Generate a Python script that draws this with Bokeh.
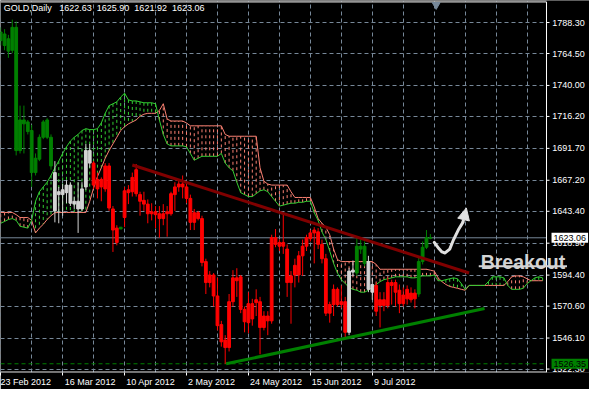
from bokeh.plotting import figure
from bokeh.models import (Range1d, FixedTicker, Label, ColumnDataSource, Arrow, NormalHead)
from bokeh.embed import file_html
from bokeh.resources import INLINE
from bokeh.core.properties import value

# ------------------------------------------------------------------ data
bar_open = [1774.4, 1770.7, 1766.3, 1767.0, 1784.6, 1690.0, 1713.5, 1712.0, 1705.4, 1673.1,
            1683.4, 1700.2, 1713.5, 1700.2, 1673.1, 1656.2, 1659.9, 1657.7, 1663.5, 1651.1,
            1645.2, 1645.2, 1662.1, 1690.0, 1680.4, 1660.6, 1667.9, 1660.6, 1678.2, 1645.2,
            1630.5, 1629.8, 1638.6, 1659.9, 1658.4, 1675.3, 1656.2, 1651.8, 1648.9, 1643.0,
            1643.0, 1641.5, 1637.8, 1643.0, 1641.5, 1656.2, 1662.1, 1664.3, 1662.1, 1653.3,
            1634.9, 1642.3, 1637.8, 1604.8, 1588.7, 1594.5, 1578.4, 1556.4, 1544.6, 1538.8,
            1574.0, 1592.3, 1593.1, 1568.1, 1557.9, 1572.5, 1573.3, 1574.0, 1554.2, 1563.0,
            1559.3, 1623.2, 1619.5, 1616.6, 1614.4, 1588.7, 1594.5, 1594.5, 1609.2, 1616.6,
            1622.4, 1626.8, 1627.6, 1618.0, 1607.0, 1565.2, 1571.8, 1583.5, 1571.8, 1574.0,
            1550.5, 1596.7, 1596.0, 1616.6, 1616.6, 1604.8, 1581.3, 1586.5, 1571.1, 1575.5,
            1571.1, 1588.7, 1588.7, 1582.8, 1572.5, 1576.2, 1580.6, 1576.2, 1579.9, 1604.8,
            1615.8, 1622.63]
bar_high = [1784.6, 1783.2, 1778.8, 1790.5, 1789.1, 1724.5, 1724.5, 1713.5, 1709.8, 1687.8,
            1702.4, 1713.5, 1714.9, 1702.4, 1681.9, 1662.1, 1664.3, 1667.2, 1665.7, 1654.7,
            1665.7, 1665.7, 1695.1, 1695.1, 1681.9, 1673.1, 1669.4, 1680.4, 1680.4, 1647.4,
            1632.7, 1631.2, 1662.1, 1663.5, 1673.1, 1679.7, 1658.4, 1658.4, 1652.5, 1649.6,
            1647.4, 1647.4, 1648.9, 1647.4, 1658.4, 1665.7, 1667.2, 1670.9, 1665.7, 1656.2,
            1645.2, 1643.7, 1640.0, 1607.0, 1597.5, 1596.0, 1592.3, 1559.3, 1548.3, 1579.9,
            1598.2, 1599.7, 1594.5, 1570.3, 1581.3, 1576.2, 1583.5, 1577.7, 1566.7, 1566.7,
            1625.4, 1629.8, 1621.7, 1641.5, 1618.0, 1597.5, 1607.0, 1612.9, 1621.7, 1625.4,
            1629.0, 1631.2, 1630.5, 1621.7, 1610.7, 1574.0, 1587.2, 1585.0, 1586.5, 1577.7,
            1599.7, 1605.6, 1623.2, 1621.7, 1620.2, 1609.2, 1592.3, 1588.7, 1581.3, 1581.3,
            1592.3, 1590.9, 1590.9, 1587.2, 1585.0, 1586.5, 1585.0, 1583.5, 1608.5, 1620.2,
            1629.0, 1625.90]
bar_low = [1770.7, 1767.0, 1761.2, 1764.8, 1686.3, 1687.8, 1687.8, 1702.4, 1662.1, 1670.9,
           1681.9, 1698.8, 1698.8, 1675.3, 1634.9, 1634.2, 1640.0, 1649.6, 1647.4, 1645.2,
           1626.8, 1643.7, 1659.9, 1676.8, 1660.6, 1653.3, 1651.1, 1658.4, 1643.7, 1612.2,
           1617.3, 1629.8, 1631.2, 1648.9, 1654.7, 1654.7, 1640.0, 1643.7, 1634.2, 1636.4,
           1630.5, 1623.2, 1632.7, 1623.9, 1640.0, 1643.7, 1658.4, 1653.3, 1649.6, 1629.0,
           1629.0, 1636.4, 1601.1, 1579.9, 1585.0, 1570.3, 1552.0, 1539.5, 1526.3, 1535.8,
           1570.3, 1577.7, 1565.2, 1550.5, 1549.8, 1555.6, 1563.0, 1533.6, 1552.0, 1548.3,
           1557.1, 1615.8, 1612.9, 1610.7, 1577.7, 1557.1, 1585.0, 1588.7, 1593.8, 1612.9,
           1620.2, 1603.4, 1614.4, 1603.4, 1563.0, 1557.9, 1563.0, 1570.3, 1568.9, 1546.8,
           1548.3, 1593.8, 1593.8, 1610.7, 1601.1, 1581.3, 1575.5, 1563.0, 1554.2, 1566.7,
           1568.9, 1571.8, 1570.3, 1565.2, 1570.3, 1571.8, 1573.3, 1568.9, 1577.7, 1602.6,
           1614.4, 1621.92]
bar_close = [1781.0, 1779.5, 1775.8, 1784.6, 1690.0, 1713.5, 1710.5, 1704.6, 1673.1, 1684.1,
             1700.2, 1712.0, 1700.2, 1678.2, 1643.7, 1658.4, 1656.2, 1663.5, 1649.6, 1648.9,
             1651.1, 1660.6, 1690.0, 1680.4, 1663.5, 1667.9, 1662.1, 1678.2, 1645.9, 1629.0,
             1619.5, 1631.2, 1659.1, 1657.7, 1669.4, 1656.9, 1651.1, 1648.9, 1641.5, 1641.5,
             1640.8, 1637.8, 1641.5, 1641.5, 1656.9, 1662.1, 1664.3, 1662.1, 1653.3, 1634.9,
             1642.3, 1637.8, 1604.1, 1588.7, 1594.5, 1578.4, 1555.6, 1543.2, 1538.8, 1574.0,
             1592.3, 1590.1, 1568.1, 1558.6, 1572.5, 1560.8, 1575.5, 1554.2, 1563.0, 1559.3,
             1623.2, 1618.0, 1616.6, 1619.5, 1588.7, 1593.8, 1601.9, 1609.2, 1616.6, 1623.2,
             1626.8, 1629.0, 1618.0, 1607.0, 1565.2, 1571.8, 1583.5, 1571.8, 1574.0, 1550.5,
             1597.5, 1598.2, 1616.6, 1614.4, 1603.4, 1583.5, 1587.2, 1566.7, 1575.5, 1571.1,
             1588.7, 1586.5, 1581.3, 1572.5, 1579.1, 1583.5, 1575.5, 1580.6, 1604.8, 1615.8,
             1623.2, 1623.06]
# position of each bar relative to the cloud: G above, W inside, R below
bar_zone = list("GGGGGGGGGGGGGG" "WWWWWWWWWW" "RRRRRRR" "G"
                "RRRRRRRRRR" "RRRRRRRRRR" "RRRRRRRRRR" "RRRRRRRRRR" "RRRRRRRRRR" "RRRRRRRR"
                "WW" "GGG" "WW" "RRRRRRRRRRR" "GGGG")

# Ichimoku cloud (already shifted forward), one value per bar
senkou_a = [1634.2, 1635.6, 1637.1, 1637.8, 1636.4, 1631.9, 1631.2, 1630.5, 1636.4, 1651.1,
            1658.4, 1662.1, 1665.7, 1670.9, 1676.8, 1681.9, 1687.8, 1692.9, 1697.3, 1700.2,
            1702.4, 1705.4, 1706.8, 1706.1, 1706.1, 1706.8, 1711.2, 1718.6, 1724.5, 1725.9,
            1727.4, 1731.1, 1734.0, 1728.9, 1728.1, 1728.1, 1727.4, 1726.7, 1726.7, 1726.7,
            1725.9, 1713.5, 1702.4, 1695.1, 1693.6, 1693.6, 1693.6, 1693.6, 1692.9, 1687.8,
            1682.6, 1684.1, 1685.6, 1685.6, 1685.6, 1685.6, 1685.6, 1687.8, 1680.4, 1676.8,
            1674.5, 1665.7, 1657.7, 1656.2, 1654.7, 1654.7, 1656.9, 1659.1, 1659.9, 1658.4,
            1654.7, 1651.1, 1647.4, 1648.1, 1648.9, 1649.6, 1649.6, 1650.3, 1650.3, 1651.1,
            1651.1, 1642.3, 1636.4, 1627.6, 1621.7, 1612.9, 1603.4, 1596.0, 1590.9, 1587.9,
            1585.0, 1583.5, 1582.8, 1581.3, 1581.3, 1582.8, 1585.0, 1587.2, 1589.4, 1590.9,
            1591.6, 1592.3, 1593.1, 1593.1, 1593.1, 1593.1, 1592.3, 1592.3, 1593.1, 1593.8,
            1593.8, 1593.8, 1594.5, 1590.1, 1590.1, 1590.9, 1591.6, 1592.3, 1591.6, 1587.9,
            1583.5, 1586.5, 1586.5, 1586.5, 1586.5, 1586.5, 1589.4, 1593.1, 1593.1, 1593.1,
            1592.3, 1586.5, 1583.5, 1583.5, 1583.5, 1584.3, 1587.9, 1590.1, 1592.3, 1593.1,
            1592.3]
senkou_b = [1642.5, 1642.5, 1642.5, 1642.5, 1640.8, 1638.6, 1638.6, 1638.6, 1636.4, 1626.8,
            1630.5, 1633.4, 1637.1, 1640.0, 1642.3, 1642.5, 1642.5, 1642.5, 1642.5, 1642.5,
            1642.5, 1642.5, 1642.5, 1651.1, 1661.3, 1670.1, 1676.8, 1684.1, 1690.0, 1695.1,
            1700.2, 1705.4, 1708.3, 1710.5, 1712.0, 1713.5, 1716.4, 1717.9, 1718.6, 1718.6,
            1718.6, 1720.8, 1725.9, 1714.2, 1712.7, 1712.7, 1712.7, 1712.7, 1711.2, 1709.0,
            1709.0, 1709.0, 1709.0, 1709.0, 1709.0, 1709.0, 1709.0, 1709.0, 1702.4, 1701.0,
            1701.0, 1701.0, 1701.0, 1701.0, 1701.0, 1701.0, 1701.0, 1676.8, 1666.5, 1664.3,
            1663.5, 1663.5, 1663.5, 1663.5, 1663.5, 1658.4, 1654.0, 1654.0, 1654.0, 1654.0,
            1654.0, 1646.7, 1637.8, 1634.2, 1631.2, 1625.4, 1614.4, 1606.3, 1604.8, 1604.8,
            1604.8, 1604.8, 1604.8, 1604.8, 1604.8, 1604.8, 1604.8, 1602.6, 1598.9, 1598.9,
            1598.9, 1598.9, 1598.9, 1598.9, 1598.9, 1598.9, 1598.9, 1598.9, 1598.9, 1598.9,
            1598.9, 1598.2, 1597.5, 1592.3, 1589.4, 1587.2, 1585.7, 1585.0, 1584.3, 1583.5,
            1582.8, 1586.5, 1586.5, 1586.5, 1586.5, 1586.5, 1586.5, 1586.5, 1586.5, 1586.5,
            1586.5, 1589.4, 1593.1, 1593.8, 1593.8, 1593.1, 1591.6, 1590.1, 1590.1, 1590.1,
            1590.1]

price_ticks = [1788.30, 1764.50, 1740.00, 1716.20, 1691.70, 1667.20, 1643.40,
               1618.90, 1594.40, 1570.60, 1546.10, 1522.30]
date_ticks = [0, 16, 32, 48, 64, 80, 96]
date_labels = ["23 Feb 2012", "16 Mar 2012", "10 Apr 2012", "2 May 2012",
               "24 May 2012", "15 Jun 2012", "9 Jul 2012"]

resistance_bar = [34, 121]
resistance_price = [1678.9, 1596.0]
support_bar = [58.25, 125]
support_price = [1526.3, 1568.8]

last_ohlc = [1622.63, 1625.90, 1621.92, 1623.06]
level_price = 1526.35

# hand-drawn arrow (bar, price)
arrow_bar = [112.0, 113.2, 114.0, 114.8, 116.0, 117.0, 118.2, 119.4]
arrow_price = [1619.5, 1614.8, 1612.2, 1611.4, 1614.4, 1621.7, 1629.0, 1634.9]
arrow_tip = (120.3, 1646.0)

# ------------------------------------------------------------------ layout / styles
C_UP, C_IN, C_DN = "#008000", "#d3d3d3", "#ff0000"
C_A, C_B = "#32cd32", "#fa8072"
GRID = "#778899"
FONT = "Liberation Sans"

X0, X1 = -0.05, 152.11         # frame spans the whole width (price scale drawn inside)
BORDER = 141.0                 # right edge of the chart area (in bar units)
Y0, Y1 = 1519.65, 1805.2
TOP = Y1 - 1.1

p = figure(width=589, height=389, output_backend="svg", toolbar_location=None,
           x_range=Range1d(X0, X1), y_range=Range1d(Y0, Y1),
           y_axis_location=None,
           background_fill_color="black", border_fill_color="black",
           min_border_left=0, min_border_top=0, min_border_right=0, min_border_bottom=14)
p.outline_line_color = None

# grids
p.xgrid.ticker = FixedTicker(ticks=list(range(0, 141, 8)))
p.xgrid.grid_line_color = GRID
p.xgrid.grid_line_dash = "4 3"
p.ygrid.ticker = FixedTicker(ticks=price_ticks)
p.ygrid.grid_line_color = GRID
p.ygrid.grid_line_dash = "4 3"

# date axis (labels start just right of their tick)
pad = [0, 22, 21, 20, 22, 21, 18]
p.xaxis.ticker = FixedTicker(ticks=date_ticks)
p.xaxis.major_label_overrides = {t: "\u00a0" * n + l for t, l, n in zip(date_ticks, date_labels, pad)}
p.xaxis.axis_line_color = None
p.xaxis.major_tick_line_color = "white"
p.xaxis.minor_tick_line_color = None
p.xaxis.major_tick_in = 0
p.xaxis.major_tick_out = 3
p.xaxis.major_label_standoff = 1
p.xaxis.major_label_text_color = "white"
p.xaxis.major_label_text_font = FONT
p.xaxis.major_label_text_font_size = "9px"

# price-scale area (masks the grid to the right of the chart border)
p.quad(left=[BORDER], right=[X1], bottom=[Y0], top=[Y1], fill_color="black", line_color=None)

# cloud
cloud_x = list(range(len(senkou_a)))
hatch = ColumnDataSource(dict(
    x=[x for x, a, b in zip(cloud_x, senkou_a, senkou_b) if a != b],
    a=[a for a, b in zip(senkou_a, senkou_b) if a != b],
    b=[b for a, b in zip(senkou_a, senkou_b) if a != b],
    c=[C_A if a > b else C_B for a, b in zip(senkou_a, senkou_b) if a != b],
))
p.segment(x0="x", y0="a", x1="x", y1="b", source=hatch, line_color="c",
          line_dash="3 3", line_width=1)
p.line(cloud_x, senkou_b, line_color=C_B, line_width=1)
p.line(cloud_x, senkou_a, line_color=C_A, line_width=1)

# horizontal levels
p.line([X0, BORDER], [last_ohlc[3], last_ohlc[3]], line_color=GRID, line_width=1)
p.line([X0, BORDER], [level_price, level_price], line_color=C_UP, line_width=1,
       line_dash="4 3")

# candles
zone_color = {"G": C_UP, "W": C_IN, "R": C_DN}
bars = ColumnDataSource(dict(
    x=list(range(len(bar_open))),
    h=bar_high, l=bar_low,
    top=[max(o, c) for o, c in zip(bar_open, bar_close)],
    bot=[min(o, c) for o, c in zip(bar_open, bar_close)],
    c=[zone_color[z] for z in bar_zone],
))
p.segment(x0="x", y0="h", x1="x", y1="l", source=bars, line_color="c", line_width=1)
p.vbar(x="x", width=0.72, top="top", bottom="bot", source=bars,
       fill_color="c", line_color="c", line_width=1)

# trend lines
p.line(resistance_bar, resistance_price, line_color="#800000", line_width=3)
p.line(support_bar, support_price, line_color="#008000", line_width=3)

# chart border
p.line([X0, BORDER, BORDER], [TOP, TOP, Y0], line_color="white", line_width=1)
p.line([X0, BORDER], [Y0 + 0.35, Y0 + 0.35], line_color="white", line_width=1)

# price scale (inside the frame, right of the border)
n_t = len(price_ticks)
p.segment(x0=[BORDER] * n_t, y0=price_ticks, x1=[BORDER + 0.78] * n_t, y1=price_ticks,
          line_color="white", line_width=1)
p.text(x=[BORDER + 1.5] * n_t, y=price_ticks, text=[f"{v:.2f}" for v in price_ticks],
       text_color="white", text_font=value(FONT), text_font_size=value("9px"),
       text_baseline="middle", text_align="left")

# chart-shift marker
p.scatter([len(bar_open) + 0.5], [TOP - 2.2], marker="inverted_triangle", size=8,
          fill_color=GRID, line_color=GRID)

# drawn arrow
p.line(arrow_bar, arrow_price, line_color="#e0e0e0", line_width=3, line_cap="round",
       line_join="round")
p.add_layout(Arrow(x_start=arrow_bar[-1], y_start=arrow_price[-1],
                   x_end=arrow_tip[0], y_end=arrow_tip[1],
                   line_color="#e0e0e0", line_width=3,
                   end=NormalHead(size=12, fill_color="#e0e0e0", line_color="#e0e0e0")))

# Breakout text + underline
p.add_layout(Label(x=124.0, y=1604.2, text="Breakout", text_color="#d3d3d3",
                   text_font=FONT, text_font_style="bold", text_font_size="19.5px",
                   text_baseline="alphabetic", text_align="left"))
p.add_layout(Arrow(x_start=123.5, y_start=1601.2, x_end=146.3, y_end=1601.2,
                   start=None, end=None, line_color="#d3d3d3", line_width=2))

# title
title = "GOLD,Daily\u00a0\u00a0\u00a0" + "\u00a0\u00a0".join(f"{v:.2f}" for v in last_ohlc)
p.add_layout(Label(x=0.8, y=1803.2, text=title, text_color="white", text_font=FONT,
                   text_font_size="9px", text_baseline="top", text_align="left"))

# price boxes on the scale
p.add_layout(Label(x=BORDER + 1.3, y=last_ohlc[3], text=f"{last_ohlc[3]:.2f}",
                   text_color="black", background_fill_color="white",
                   text_font=FONT, text_font_size="9px",
                   text_baseline="middle", text_align="left", padding=2))
p.add_layout(Label(x=BORDER + 1.3, y=level_price, text=f"{level_price:.2f}",
                   text_color="black", background_fill_color=C_UP,
                   text_font=FONT, text_font_size="9px",
                   text_baseline="middle", text_align="left", padding=2))

open("out.html", "w").write(file_html(p, INLINE))
